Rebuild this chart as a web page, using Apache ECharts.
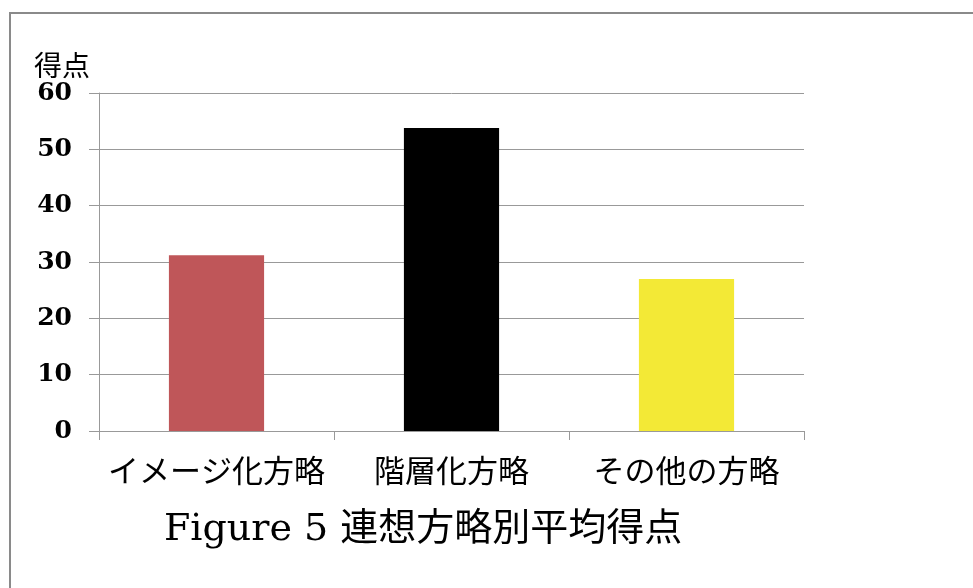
<!DOCTYPE html>
<html><head><meta charset="utf-8">
<script src="https://cdn.jsdelivr.net/npm/echarts@6/dist/echarts.min.js"></script>
<style>html,body{margin:0;padding:0;background:#fff}#c{width:973px;height:588px}</style>
</head><body><div id="c"></div>
<script>
const categories = ['イメージ化方略', '階層化方略', 'その他の方略'];
const scores = [31.2, 53.8, 27.0];
const barColors = ['#BF5659', '#000000', '#F3E936'];
const yTicks = [0, 10, 20, 30, 40, 50, 60];

const chart = echarts.init(document.getElementById('c'), null, {renderer: 'canvas'});
const serif = '"DejaVu Serif", "Liberation Serif", serif';
const jp = '"Noto Sans CJK JP", sans-serif';
chart.setOption({
  animation: false,
  backgroundColor: '#fff',
  grid: {left: 99, right: 169, top: 93, bottom: 157},
  xAxis: {
    type: 'category',
    data: categories,
    axisLine: {show: true, lineStyle: {color: '#999', width: 1}},
    axisTick: {show: true, interval: 0, length: 9, alignWithLabel: false, lineStyle: {color: '#999'}},
    axisLabel: {color: '#000', fontFamily: jp, fontSize: 31, margin: 24, interval: 0}
  },
  yAxis: {
    type: 'value',
    min: yTicks[0], max: yTicks[yTicks.length - 1], interval: 10,
    axisLine: {show: true, lineStyle: {color: '#999', width: 1}},
    axisTick: {show: true, length: 10, lineStyle: {color: '#999'}},
    splitLine: {show: true, lineStyle: {color: '#999', width: 1}},
    axisLabel: {color: '#000', fontFamily: serif, fontSize: 25, fontWeight: 'bold', margin: 27}
  },
  series: [{
    type: 'bar',
    barWidth: '40.5%',
    data: scores.map((v, i) => ({value: v, itemStyle: {color: barColors[i]}}))
  }],
  graphic: [
    {type: 'rect', shape: {x: 10, y: 13, width: 1000, height: 600},
     style: {fill: 'none', stroke: '#8a8a8a', lineWidth: 2}, silent: true},
    {type: 'text', left: 34, top: 51,
     style: {text: '得点', font: '28px "Noto Sans CJK JP"', fill: '#000'}},
    {type: 'text', top: 511, left: 164,
     style: {text: 'Figure 5 連想方略別平均得点', font: '38px "DejaVu Serif", "Noto Sans CJK JP"', fill: '#000'}}
  ]
});
</script></body></html>
